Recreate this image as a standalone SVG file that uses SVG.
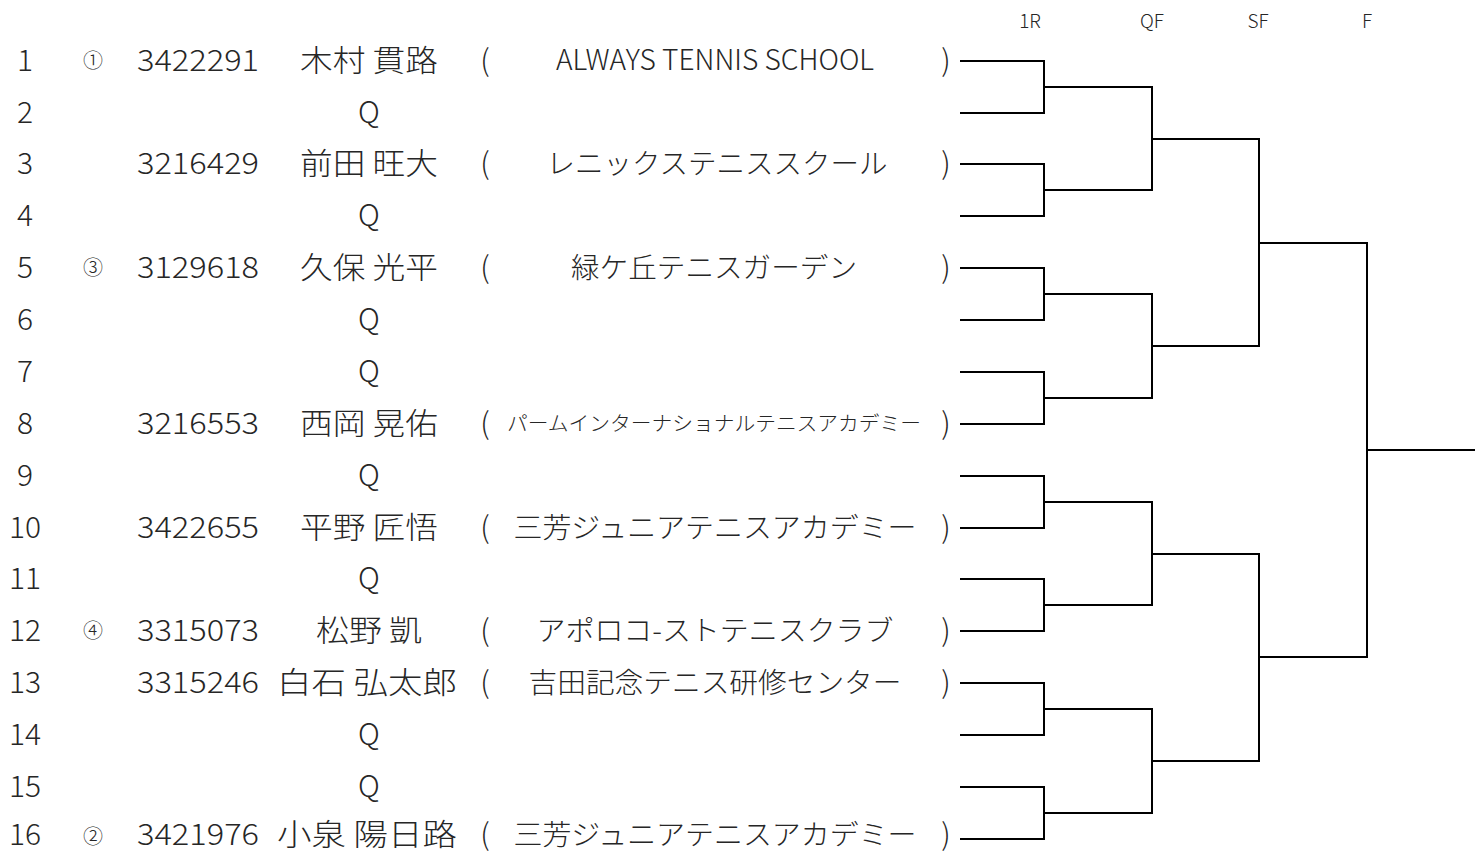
<svg xmlns="http://www.w3.org/2000/svg" width="1484" height="854" viewBox="0 0 1484 854">
<style>
text{font-family:"Noto Sans CJK JP","Noto Sans",sans-serif;fill:#262626;text-anchor:middle;font-weight:300}
.n{font-size:30px}
.s{font-size:20px}
.c{font-size:28px}
.sm{font-size:20px}
.h{font-size:19px}
.br{fill:none;stroke:#000;stroke-width:2}
</style>
<rect width="1484" height="854" fill="#fff"/>
<g id="headers">
<text class="h" x="1030" y="28">1R</text>
<text class="h" x="1152" y="28">QF</text>
<text class="h" x="1258" y="28">SF</text>
<text class="h" x="1367" y="28">F</text>
</g>
<g id="row1" transform="translate(0,61)"><text class="n" x="25" y="10">1</text><text class="s" x="93" y="7">①</text><text class="n" x="198" y="10" textLength="122" lengthAdjust="spacingAndGlyphs">3422291</text><text class="n" x="369" y="10" textLength="138" lengthAdjust="spacingAndGlyphs">木村 貫路</text><text class="n" x="485" y="10">(</text><text class="c" x="715" y="9" textLength="318" lengthAdjust="spacingAndGlyphs">ALWAYS TENNIS SCHOOL</text><text class="n" x="946" y="10">)</text></g>
<g id="row2" transform="translate(0,113)"><text class="n" x="25" y="10">2</text><text class="n" x="369" y="10">Q</text></g>
<g id="row3" transform="translate(0,164)"><text class="n" x="25" y="10">3</text><text class="n" x="198" y="10" textLength="122" lengthAdjust="spacingAndGlyphs">3216429</text><text class="n" x="369" y="10" textLength="138" lengthAdjust="spacingAndGlyphs">前田 旺大</text><text class="n" x="485" y="10">(</text><text class="c" x="717" y="10" textLength="341" lengthAdjust="spacingAndGlyphs">レニックステニススクール</text><text class="n" x="946" y="10">)</text></g>
<g id="row4" transform="translate(0,216)"><text class="n" x="25" y="10">4</text><text class="n" x="369" y="10">Q</text></g>
<g id="row5" transform="translate(0,268)"><text class="n" x="25" y="10">5</text><text class="s" x="93" y="7">③</text><text class="n" x="198" y="10" textLength="122" lengthAdjust="spacingAndGlyphs">3129618</text><text class="n" x="369" y="10" textLength="138" lengthAdjust="spacingAndGlyphs">久保 光平</text><text class="n" x="485" y="10">(</text><text class="c" x="714" y="10" textLength="286" lengthAdjust="spacingAndGlyphs">緑ケ丘テニスガーデン</text><text class="n" x="946" y="10">)</text></g>
<g id="row6" transform="translate(0,320)"><text class="n" x="25" y="10">6</text><text class="n" x="369" y="10">Q</text></g>
<g id="row7" transform="translate(0,372)"><text class="n" x="25" y="10">7</text><text class="n" x="369" y="10">Q</text></g>
<g id="row8" transform="translate(0,424)"><text class="n" x="25" y="10">8</text><text class="n" x="198" y="10" textLength="122" lengthAdjust="spacingAndGlyphs">3216553</text><text class="n" x="369" y="10" textLength="138" lengthAdjust="spacingAndGlyphs">西岡 晃佑</text><text class="n" x="485" y="10">(</text><text class="sm" x="714" y="7" textLength="414" lengthAdjust="spacingAndGlyphs">パームインターナショナルテニスアカデミー</text><text class="n" x="946" y="10">)</text></g>
<g id="row9" transform="translate(0,476)"><text class="n" x="25" y="10">9</text><text class="n" x="369" y="10">Q</text></g>
<g id="row10" transform="translate(0,528)"><text class="n" x="25" y="10">10</text><text class="n" x="198" y="10" textLength="122" lengthAdjust="spacingAndGlyphs">3422655</text><text class="n" x="369" y="10" textLength="138" lengthAdjust="spacingAndGlyphs">平野 匠悟</text><text class="n" x="485" y="10">(</text><text class="c" x="715" y="10" textLength="403" lengthAdjust="spacingAndGlyphs">三芳ジュニアテニスアカデミー</text><text class="n" x="946" y="10">)</text></g>
<g id="row11" transform="translate(0,579)"><text class="n" x="25" y="10">11</text><text class="n" x="369" y="10">Q</text></g>
<g id="row12" transform="translate(0,631)"><text class="n" x="25" y="10">12</text><text class="s" x="93" y="7">④</text><text class="n" x="198" y="10" textLength="122" lengthAdjust="spacingAndGlyphs">3315073</text><text class="n" x="369" y="10" textLength="106" lengthAdjust="spacingAndGlyphs">松野 凱</text><text class="n" x="485" y="10">(</text><text class="c" x="715" y="10" textLength="357" lengthAdjust="spacingAndGlyphs">アポロコ-ストテニスクラブ</text><text class="n" x="946" y="10">)</text></g>
<g id="row13" transform="translate(0,683)"><text class="n" x="25" y="10">13</text><text class="n" x="198" y="10" textLength="122" lengthAdjust="spacingAndGlyphs">3315246</text><text class="n" x="367" y="10" textLength="180" lengthAdjust="spacingAndGlyphs">白石 弘太郎</text><text class="n" x="485" y="10">(</text><text class="c" x="715" y="10" textLength="373" lengthAdjust="spacingAndGlyphs">吉田記念テニス研修センター</text><text class="n" x="946" y="10">)</text></g>
<g id="row14" transform="translate(0,735)"><text class="n" x="25" y="10">14</text><text class="n" x="369" y="10">Q</text></g>
<g id="row15" transform="translate(0,787)"><text class="n" x="25" y="10">15</text><text class="n" x="369" y="10">Q</text></g>
<g id="row16" transform="translate(0,839)"><text class="n" x="25" y="6">16</text><text class="s" x="93" y="5">②</text><text class="n" x="198" y="6" textLength="122" lengthAdjust="spacingAndGlyphs">3421976</text><text class="n" x="367" y="6" textLength="180" lengthAdjust="spacingAndGlyphs">小泉 陽日路</text><text class="n" x="485" y="6">(</text><text class="c" x="715" y="6" textLength="403" lengthAdjust="spacingAndGlyphs">三芳ジュニアテニスアカデミー</text><text class="n" x="946" y="6">)</text></g>
<g id="connectors" class="br">
<path d="M960,61H1044V113H960M960,164H1044V216H960M960,268H1044V320H960M960,372H1044V424H960M960,476H1044V528H960M960,579H1044V631H960M960,683H1044V735H960M960,787H1044V839H960"/>
<path d="M1044,87H1152V190H1044M1044,294H1152V398H1044M1044,502H1152V605H1044M1044,709H1152V813H1044"/>
<path d="M1152,139H1259V346H1152M1152,554H1259V761H1152"/>
<path d="M1259,243H1367V657H1259"/>
<path d="M1367,450H1475"/>
</g>
</svg>
